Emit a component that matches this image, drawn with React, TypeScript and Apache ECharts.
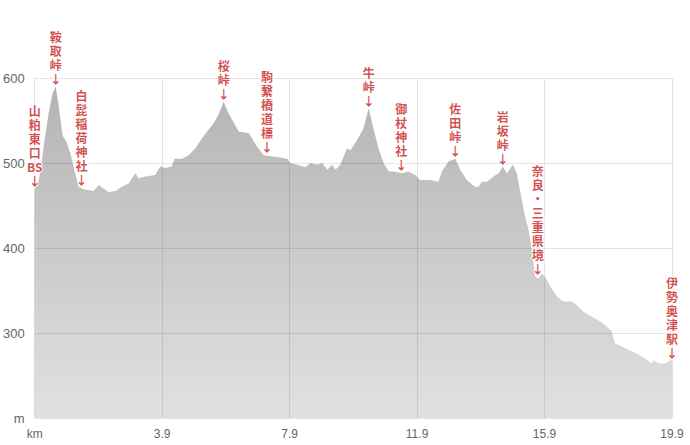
import React, { useEffect, useRef } from "react";
import * as echarts from "echarts";

// distance (km) along the route and elevation (m)
const distanceKm = [
  -0.1, -0.01, 0.09, 0.18, 0.34, 0.46, 0.56, 0.65, 0.73, 0.78, 0.9, 1.03, 1.19, 1.28, 1.44,
  1.75, 1.91, 2.06, 2.22, 2.44, 2.63, 2.85, 3.06, 3.16, 3.37, 3.68, 3.84, 4.0, 4.2, 4.29,
  4.52, 4.73, 4.94, 5.04, 5.31, 5.52, 5.68, 5.83, 5.99, 6.15, 6.3, 6.62, 6.72, 6.88, 7.09,
  7.3, 7.51, 7.82, 7.93, 8.14, 8.4, 8.55, 8.76, 8.92, 9.08, 9.23, 9.34, 9.49, 9.7, 9.81,
  10.02, 10.22, 10.38, 10.54, 10.69, 10.85, 11.01, 11.16, 11.43, 11.63, 11.84, 12.0, 12.31,
  12.57, 12.68, 12.89, 13.1, 13.25, 13.46, 13.72, 13.83, 13.93, 14.09, 14.3, 14.46, 14.59,
  14.72, 14.91, 15.03, 15.19, 15.29, 15.4, 15.5, 15.61, 15.71, 15.82, 15.92, 16.08, 16.29,
  16.49, 16.76, 16.91, 17.12, 17.38, 17.59, 17.8, 18.01, 18.11, 18.32, 18.53, 18.79, 19.05,
  19.26, 19.31, 19.52, 19.68, 19.84, 19.9,
];
const elevationM = [
  470, 474, 492, 519, 559, 582, 590, 568, 545, 532, 525, 510, 485, 472, 469,
  467, 474, 470, 466, 467, 472, 476, 488, 482, 484, 486, 496, 494, 496, 505,
  505, 509, 517, 523, 537, 547, 558, 572, 558, 547, 537, 535, 529, 519, 509,
  508, 507, 505, 500, 498, 495, 500, 498, 500, 492, 498, 492, 498, 517, 515,
  527, 541, 564, 539, 517, 500, 490, 490, 488, 490, 486, 480, 480,
  478, 490, 502, 505, 492, 480, 472, 472, 478, 478, 484, 488, 496,
  488, 498, 488, 456, 437, 421, 398, 366, 364, 370, 366, 355, 343,
  337, 337, 333, 325, 319, 315, 309, 302, 288, 284, 280, 276, 270,
  264, 268, 264, 264, 268, 270,
];

// landmarks (label lines, position)
const landmarkLines = [
  ["山", "粕", "東", "口", "BS"],
  ["鞍", "取", "峠"],
  ["白", "髭", "稲", "荷", "神", "社"],
  ["桜", "峠"],
  ["駒", "繋", "橋", "道", "標"],
  ["牛", "峠"],
  ["御", "杖", "神", "社"],
  ["佐", "田", "峠"],
  ["岩", "坂", "峠"],
  ["奈", "良", "・", "三", "重", "県", "境"],
  ["伊", "勢", "奥", "津", "駅"],
];
const landmarkKm = [-0.1, 0.56, 1.37, 5.83, 7.19, 10.38, 11.4, 13.1, 14.59, 15.69, 19.9];
const landmarkElev = [470, 590, 471, 572, 510, 564, 489, 505, 496, 366, 268];

// axes
const xMin = -0.1;
const xMax = 19.9;
const xStep = 4;
const yMin = 200;
const yMax = 600;
const yStep = 100;

export default function App() {
  const ref = useRef<HTMLDivElement>(null);

  useEffect(() => {
    document.body.style.margin = "0";
    if (!ref.current) return;
    const chart = echarts.init(ref.current, undefined, { renderer: "svg" });

    const profile = distanceKm.map((d, i) => [d, elevationM[i]]);
    const marks = landmarkLines.map((lines, i) => ({
      value: [landmarkKm[i], landmarkElev[i]],
      name: lines.concat("↓").join("\n"),
    }));

    chart.setOption({
      animation: false,
      grid: { left: 34, right: 18, top: 78, bottom: 27 },
      xAxis: {
        type: "value",
        min: xMin,
        max: xMax,
        interval: xStep,
        axisLine: { show: false },
        axisTick: { show: false },
        splitLine: { show: true, lineStyle: { color: "#e4e4e4", width: 1 } },
        axisLabel: {
          color: "#666",
          fontSize: 12,
          fontFamily: "Liberation Sans, Arial, sans-serif",
          margin: 10,
          showMinLabel: true,
          showMaxLabel: true,
          formatter: (v: number) => (Math.abs(v - xMin) < 1e-6 ? "km" : v.toFixed(1)),
        },
      },
      yAxis: {
        type: "value",
        min: yMin,
        max: yMax,
        interval: yStep,
        axisLine: { show: false },
        axisTick: { show: false },
        splitLine: { show: true, lineStyle: { color: "#e4e4e4", width: 1 } },
        axisLabel: {
          color: "#666",
          fontSize: 13,
          fontFamily: "Liberation Sans, Arial, sans-serif",
          margin: 10,
          formatter: (v: number) => (v === yMin ? "m" : String(v)),
        },
      },
      series: [
        {
          type: "line",
          data: profile,
          showSymbol: false,
          symbol: "none",
          lineStyle: { width: 0 },
          areaStyle: {
            color: new echarts.graphic.LinearGradient(0, 0, 0, 1, [
              { offset: 0, color: "rgba(0,0,0,0.42)" },
              { offset: 1, color: "rgba(0,0,0,0.17)" },
            ]),
          },
          z: 2,
        },
        {
          type: "scatter",
          data: marks,
          symbolSize: 0,
          clip: false,
          z: 5,
          label: {
            show: true,
            position: "top",
            distance: 1,
            formatter: (p: any) => p.name,
            color: "#c81e1e",
            fontSize: 12,
            fontWeight: "bold",
            lineHeight: 14,
            align: "center",
            fontFamily: "Noto Sans CJK JP, sans-serif",
            textBorderColor: "#fff",
            textBorderWidth: 2,
          },
        },
      ],
    });

    return () => chart.dispose();
  }, []);

  return <div ref={ref} style={{ width: 690, height: 445 }} />;
}
